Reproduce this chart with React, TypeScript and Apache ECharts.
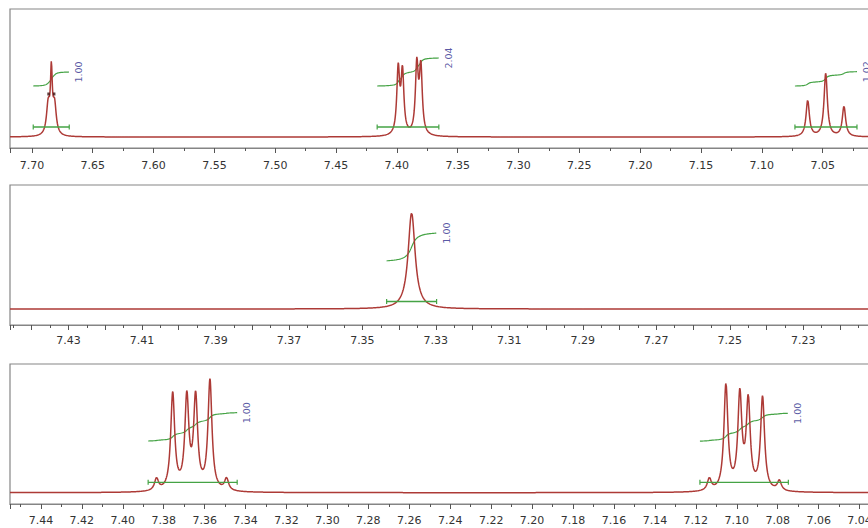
import React, { useEffect, useRef } from "react";
import * as echarts from "echarts";

// ---------- Panel 1 : 7.72 – 7.00 ppm ----------
const p1Shift = [7.6866, 7.684, 7.6814, 7.3989, 7.3954, 7.3836, 7.3803, 7.0623, 7.0475, 7.0325];
const p1Height = [30, 58, 30, 64.7, 61.6, 68.6, 65.8, 36, 63, 30];
const p1Width = [0.0034, 0.0018, 0.0034, 0.0028, 0.0028, 0.0028, 0.0028, 0.0033, 0.0033, 0.0033];
const p1IntFrom = [7.6989, 7.4162, 7.0728];
const p1IntTo = [7.6693, 7.3655, 7.0218];
const p1IntLabel = ["1.00", "2.04", "1.02"];
const p1IntLow = [51, 51, 51];
const p1IntHigh = [65, 79, 65.3];
const p1Marks = [
  [7.6863, 43],
  [7.6817, 43],
];
const p1Range = [7.0, 7.718];
const p1Step = 0.05;

// ---------- Panel 2 : 7.446 – 7.21 ppm ----------
const p2Shift = [7.3366];
const p2Height = [96];
const p2Width = [0.0023];
const p2IntFrom = [7.3434];
const p2IntTo = [7.3298];
const p2IntLabel = ["1.00"];
const p2IntLow = [48.2];
const p2IntHigh = [75.9];
const p2Range = [7.21, 7.4459];
const p2Step = 0.01;

// ---------- Panel 3 : 7.455 – 7.02 ppm ----------
const p3Shift = [7.3835, 7.3756, 7.3687, 7.3644, 7.3574, 7.3493, 7.1134, 7.1053, 7.0985, 7.0944, 7.0874, 7.0792];
const p3Height = [12, 96.8, 91.9, 91.6, 109.8, 12, 12, 105.5, 93.8, 87.9, 93, 10];
const p3Width = [0.00235, 0.00235, 0.00235, 0.00235, 0.00235, 0.00235, 0.00235, 0.00235, 0.00235, 0.00235, 0.00235, 0.00235];
const p3IntFrom = [7.3876, 7.118];
const p3IntTo = [7.3441, 7.0748];
const p3IntLabel = ["1.00", "1.00"];
const p3IntLow = [51.7, 51.6];
const p3IntHigh = [80, 79.4];
const p3Range = [7.02, 7.4551];
const p3Step = 0.02;

const FONT = "'DejaVu Sans', Tahoma, sans-serif";
const RED = "#ad3a36";
const GREEN = "#45a345";
const NAVY = "#2c2c8c";
const FRAME = "#858585";
const TICK = "#555";

function spectrum(shift: number[], height: number[], width: number[], range: number[], n: number) {
  const pts: number[][] = [];
  const [lo, hi] = range;
  for (let k = 0; k <= n; k++) {
    const x = hi - ((hi - lo) * k) / n;
    let y = 0;
    for (let i = 0; i < shift.length; i++) {
      const d = (x - shift[i]) / (width[i] / 2);
      y += height[i] / (1 + d * d);
    }
    pts.push([x, y]);
  }
  return pts;
}

function integral(shift: number[], height: number[], width: number[], from: number, to: number, low: number, high: number) {
  const F = (x: number) => {
    let s = 0;
    for (let i = 0; i < shift.length; i++) {
      const g = width[i] / 2;
      s += height[i] * g * (Math.atan((from - shift[i]) / g) - Math.atan((x - shift[i]) / g));
    }
    return s;
  };
  const total = F(to);
  const pts: number[][] = [];
  const n = 160;
  for (let k = 0; k <= n; k++) {
    const x = from - ((from - to) * k) / n;
    pts.push([x, low + ((high - low) * F(x)) / total]);
  }
  return pts;
}

type PanelDef = {
  shift: number[];
  height: number[];
  width: number[];
  intFrom: number[];
  intTo: number[];
  intLabel: string[];
  intLow: number[];
  intHigh: number[];
  range: number[];
  step: number;
  grid: { left: number; top: number; width: number; height: number };
  yMin: number;
  yMax: number;
  barLevel: number;
  labelMargin: number;
  labelFilter?: (v: number) => boolean;
  marks?: number[][];
};

const panels: PanelDef[] = [
  {
    shift: p1Shift, height: p1Height, width: p1Width,
    intFrom: p1IntFrom, intTo: p1IntTo, intLabel: p1IntLabel, intLow: p1IntLow, intHigh: p1IntHigh,
    range: p1Range, step: p1Step,
    grid: { left: 10, top: 9, width: 873.5, height: 139 },
    yMin: -11, yMax: 128, barLevel: 10, marks: p1Marks, labelMargin: 12,
  },
  {
    shift: p2Shift, height: p2Height, width: p2Width,
    intFrom: p2IntFrom, intTo: p2IntTo, intLabel: p2IntLabel, intLow: p2IntLow, intHigh: p2IntHigh,
    range: p2Range, step: p2Step,
    grid: { left: 10, top: 185, width: 866.8, height: 140 },
    yMin: -16, yMax: 124, barLevel: 7.5, labelMargin: 10,
    labelFilter: (v: number) => Math.round(v * 100) % 2 === 1,
  },
  {
    shift: p3Shift, height: p3Height, width: p3Width,
    intFrom: p3IntFrom, intTo: p3IntTo, intLabel: p3IntLabel, intLow: p3IntLow, intHigh: p3IntHigh,
    range: p3Range, step: p3Step,
    grid: { left: 10, top: 364, width: 890.5, height: 140 },
    yMin: -11.3, yMax: 128.7, barLevel: 10.4, labelMargin: 11,
  },
];

function buildOption() {
  const grid: any[] = [];
  const xAxis: any[] = [];
  const yAxis: any[] = [];
  const series: any[] = [];
  panels.forEach((p, i) => {
    grid.push({ ...p.grid, show: true, borderColor: FRAME, borderWidth: 1.2, backgroundColor: "transparent" });
    xAxis.push({
      type: "value",
      gridIndex: i,
      inverse: true,
      min: p.range[0],
      max: p.range[1],
      interval: p.step,
      axisLine: { show: true, onZero: false, lineStyle: { color: FRAME, width: 1.2 } },
      axisTick: { show: true, length: 5, lineStyle: { color: TICK, width: 1 } },
      minorTick: { show: true, splitNumber: 2, length: 3, lineStyle: { color: TICK, width: 1 } },
      splitLine: { show: false },
      minorSplitLine: { show: false },
      axisLabel: {
        show: true,
        margin: p.labelMargin,
        color: "#333",
        fontSize: 11,
        fontFamily: FONT,
        showMinLabel: false,
        showMaxLabel: false,
        formatter: (v: number) => (p.labelFilter && !p.labelFilter(v) ? "" : v.toFixed(2)),
      },
    });
    yAxis.push({ type: "value", gridIndex: i, min: p.yMin, max: p.yMax, show: false });

    p.intFrom.forEach((from, j) => {
      const curve = integral(p.shift, p.height, p.width, from, p.intTo[j], p.intLow[j], p.intHigh[j]);
      series.push({
        type: "line", xAxisIndex: i, yAxisIndex: i, data: curve, showSymbol: false, silent: true,
        color: GREEN, lineStyle: { color: GREEN, width: 1.2 }, z: 2,
      });
      series.push({
        type: "line", xAxisIndex: i, yAxisIndex: i, silent: true,
        data: [[from, p.barLevel], [p.intTo[j], p.barLevel]],
        showSymbol: true, symbol: "rect", symbolSize: [1.2, 5],
        color: GREEN, itemStyle: { color: GREEN }, lineStyle: { color: GREEN, width: 1.3 }, z: 4,
      });
      series.push({
        type: "scatter", xAxisIndex: i, yAxisIndex: i, silent: true,
        symbolSize: 1, itemStyle: { color: "transparent" },
        data: [{
          value: [p.intTo[j], p.intHigh[j]],
          label: {
            show: true, formatter: p.intLabel[j], position: "right", distance: 9,
            rotate: 90, align: "center", verticalAlign: "middle",
            color: NAVY, fontSize: 9.5, fontFamily: FONT,
          },
        }],
        z: 5,
      });
    });

    series.push({
      type: "line", xAxisIndex: i, yAxisIndex: i, silent: true,
      data: spectrum(p.shift, p.height, p.width, p.range, 4000),
      showSymbol: false, color: RED, lineStyle: { color: RED, width: 1.5 }, z: 3,
    });
    if (p.marks) {
      series.push({
        type: "scatter", xAxisIndex: i, yAxisIndex: i, silent: true,
        data: p.marks, symbol: "rect", symbolSize: [2.5, 3], itemStyle: { color: "#3a0d0d" }, z: 6,
      });
    }
  });
  return { animation: false, grid, xAxis, yAxis, series, tooltip: { show: false } };
}

export default function App() {
  const ref = useRef<HTMLDivElement>(null);
  useEffect(() => {
    if (!ref.current) return;
    const chart = echarts.init(ref.current, undefined, { renderer: "svg" });
    chart.setOption(buildOption() as any);
    return () => chart.dispose();
  }, []);
  return (
    <div style={{ position: "fixed", left: 0, top: 0, width: 868, height: 528, overflow: "hidden", background: "#fff" }}>
      <div ref={ref} style={{ position: "absolute", left: 0, top: 0, width: 910, height: 528 }} />
    </div>
  );
}
